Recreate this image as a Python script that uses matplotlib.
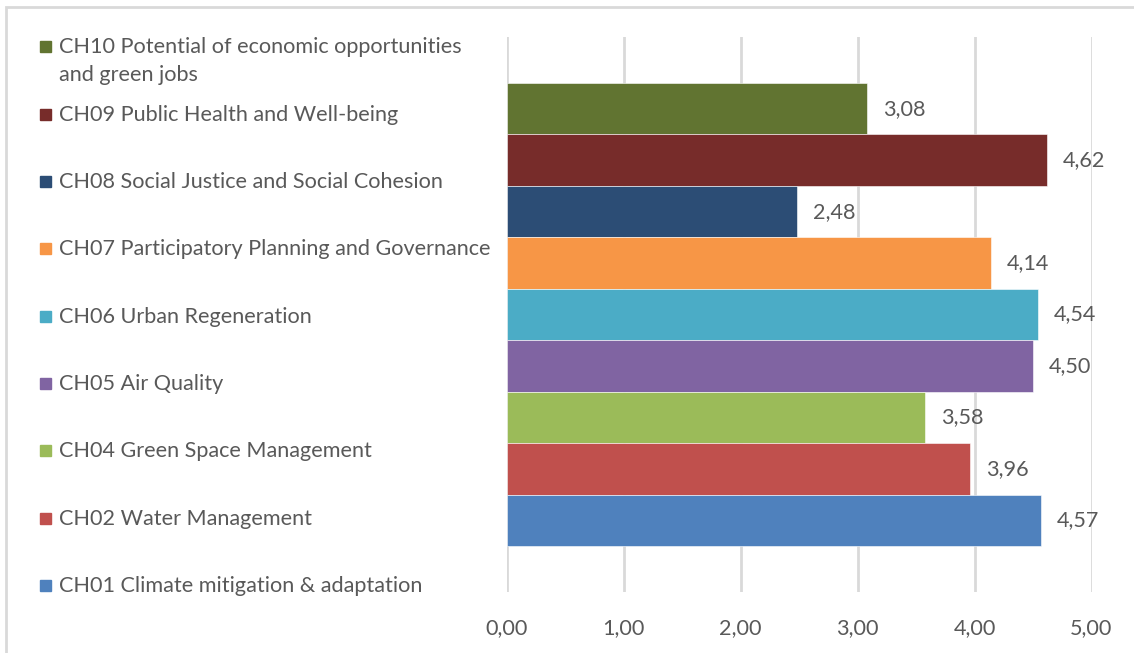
import numpy as np
import matplotlib.pyplot as plt
from matplotlib.patches import Rectangle

# series, top to bottom as listed in the legend
labels = ["CH10 Potential of economic opportunities\nand green jobs",
          "CH09 Public Health and Well-being",
          "CH08 Social Justice and Social Cohesion",
          "CH07 Participatory Planning and Governance",
          "CH06 Urban Regeneration",
          "CH05 Air Quality",
          "CH04 Green Space Management",
          "CH02 Water Management",
          "CH01 Climate mitigation & adaptation"]
values = [3.08, 4.62, 2.48, 4.14, 4.54, 4.50, 3.58, 3.96, 4.57]
colors = ["#617431", "#772C2A", "#2C4D75", "#F79646", "#4BACC6",
          "#8064A2", "#9BBB59", "#C0504D", "#4F81BD"]
xticks = [0, 1, 2, 3, 4, 5]

plt.rcParams['font.family'] = ['Lato', 'DejaVu Sans']
txt = "#595959"
fs = 15.6
W, H = 1134, 653

fig = plt.figure(figsize=(W / 100, H / 100), dpi=100)
fig.patch.set_facecolor("white")

# plot area in pixels
left, right, top, bottom = 506.5, 1091.5, 37, 592
ax = fig.add_axes([left / W, 1 - bottom / H, (right - left) / W, (bottom - top) / H])

n = len(values)
pos = np.arange(n)[::-1]  # first series on top
ax.barh(pos, values, height=1.0, color=colors, edgecolor="white", linewidth=0.4)
gap = 0.894
ax.set_ylim(-0.5 - gap, n - 0.5 + gap)
ax.set_xlim(0, 5)
ax.set_xticks(xticks)
ax.set_xticklabels([f"{t:.2f}".replace(".", ",") for t in xticks])
ax.set_yticks([])
ax.grid(axis="x", color="#D9D9D9", linewidth=2)
ax.set_axisbelow(True)
for s in ax.spines.values():
    s.set_visible(False)
ax.tick_params(axis="x", length=0, pad=19, labelsize=fs, labelcolor=txt)

for p, v in zip(pos, values):
    ax.annotate(f"{v:.2f}".replace(".", ","), (v, p), xytext=(11.5, 0),
                textcoords="offset points", va="center", ha="left",
                fontsize=fs, color=txt)

# legend on the left, one entry per series
line_y = [46, 114, 181, 248, 316, 383, 450, 518, 585]
for y, lab, c in zip(line_y, labels, colors):
    fig.patches.append(Rectangle((40 / W, 1 - (y + 5.5) / H), 11 / W, 11 / H,
                                 transform=fig.transFigure, color=c))
    for k, line in enumerate(lab.split("\n")):
        fig.text(59 / W, 1 - (y + 7 + 28 * k) / H, line, ha="left", va="baseline",
                 fontsize=fs, color=txt)

# chart frame
fig.patches.append(Rectangle((6 / W, -0.05), 1.1, 1.05 - 7 / H, transform=fig.transFigure,
                             fill=False, edgecolor="#D9D9D9", linewidth=2))

fig.savefig("out.png", dpi=100)
